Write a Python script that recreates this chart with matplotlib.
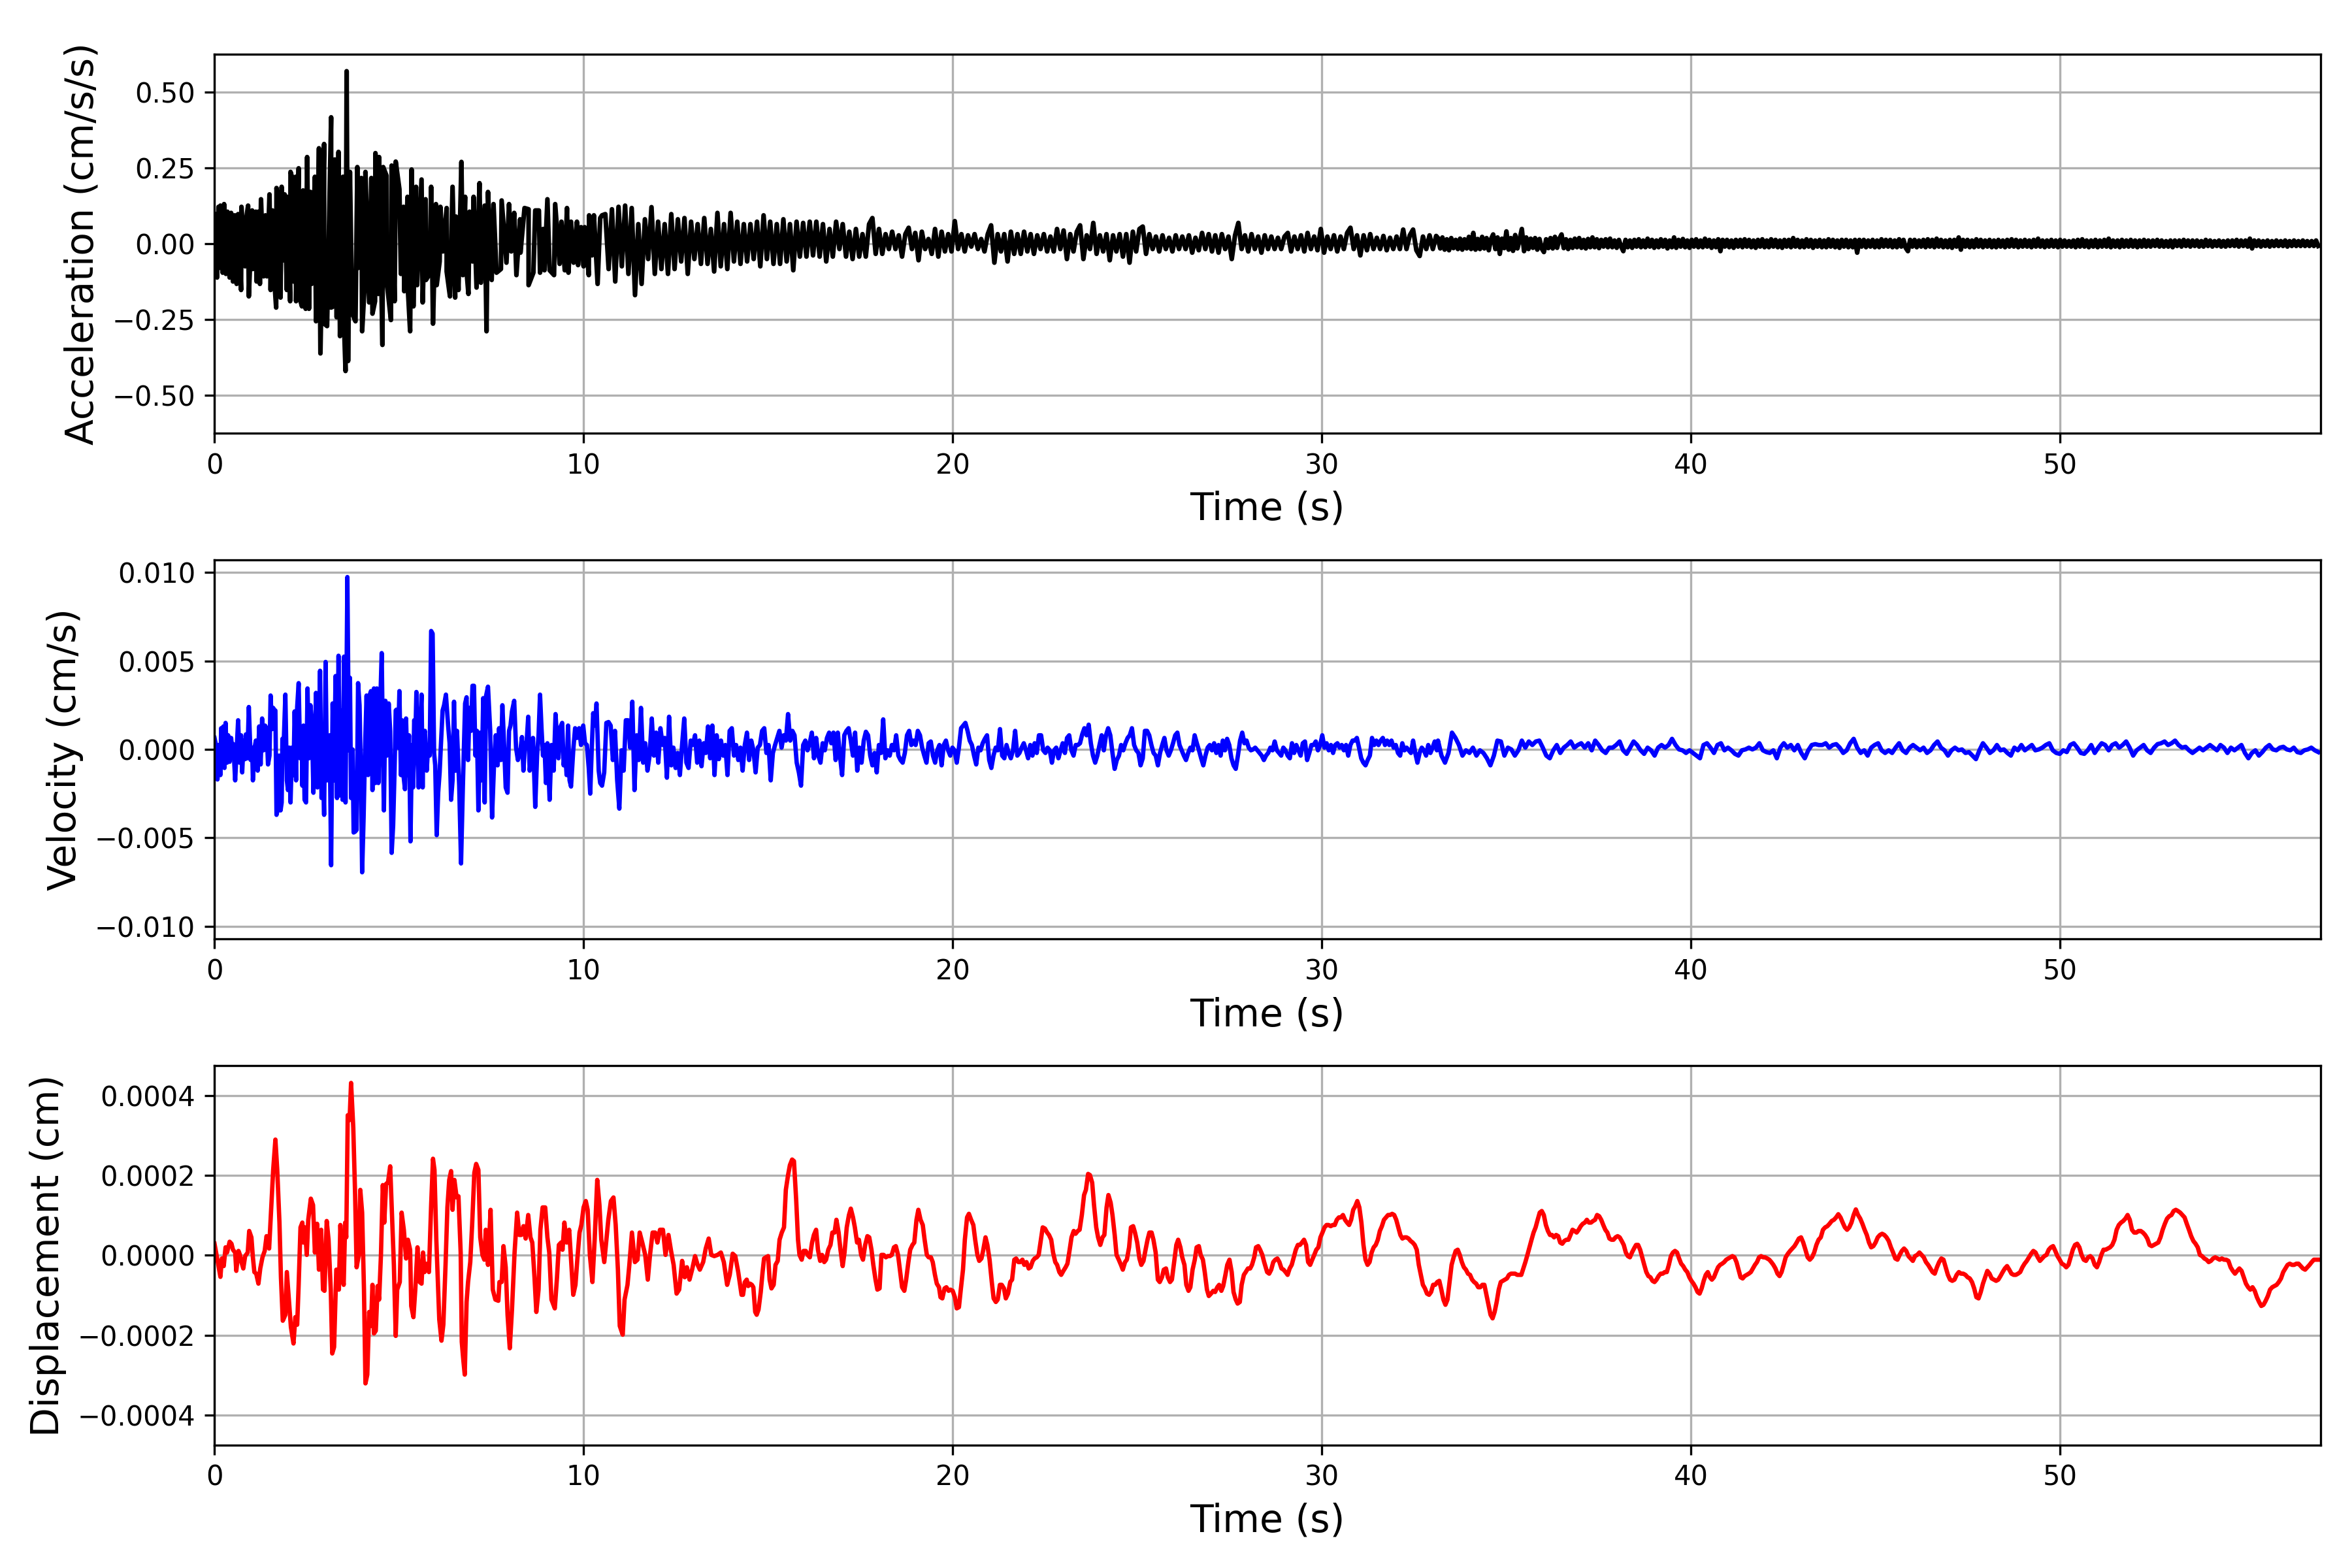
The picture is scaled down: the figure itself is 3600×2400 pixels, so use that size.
import numpy as np
import matplotlib
matplotlib.use("Agg")
import matplotlib.pyplot as plt
from matplotlib.ticker import MultipleLocator

# ---------------- Acceleration (units of 0.001 cm/s/s) ----------------
# 0 - 10.5 s : upper and lower excursions
ACC1_UP_T = [0.04,0.11,0.16,0.26,0.35,0.45,0.55,0.64,0.73,0.84,0.91,1.02,1.12,1.19,1.26,1.38,1.49,1.57,1.68,1.75,
             1.82,1.90,1.97,2.06,2.14,2.20,2.28,2.40,2.51,2.60,2.72,2.83,2.97,3.16,3.26,3.36,3.48,3.58,3.67,3.87,
             3.98,4.09,4.25,4.36,4.46,4.57,4.66,4.80,4.91,5.01,5.12,5.23,5.34,5.46,5.61,5.72,5.87,6.00,6.12,6.29,
             6.45,6.54,6.69,6.79,6.91,7.02,7.18,7.32,7.41,7.56,7.78,7.98,8.12,8.28,8.40,8.51,8.69,8.79,8.90,9.02,
             9.23,9.40,9.55,9.66,9.82,9.93,10.03,10.15,10.28,10.45]
ACC1_UP_V = [97,121,125,130,105,101,93,97,121,64,125,109,105,105,146,93,162,109,183,125,
             187,162,154,236,203,220,248,175,285,170,220,314,328,416,277,302,220,568,236,252,
             216,236,216,298,285,252,224,257,270,179,121,154,244,187,211,146,187,130,121,117,
             187,89,269,154,105,154,199,125,170,130,142,130,101,80,117,113,109,109,48,146,
             130,72,117,72,72,54,54,93,93,84]
ACC1_DN_T = [0.07,0.14,0.22,0.31,0.41,0.50,0.60,0.72,0.83,0.93,1.04,1.14,1.23,1.33,1.42,1.52,1.61,1.67,1.79,1.88,
             1.96,2.05,2.14,2.21,2.29,2.37,2.47,2.56,2.63,2.75,2.87,2.97,3.05,3.16,3.22,3.31,3.40,3.50,3.55,3.62,
             3.73,3.82,3.90,4.00,4.08,4.19,4.28,4.35,4.44,4.55,4.67,4.78,4.88,5.05,5.14,5.23,5.30,5.39,5.49,5.64,
             5.73,5.83,5.92,6.02,6.10,6.19,6.29,6.38,6.52,6.61,6.73,6.79,6.88,6.99,7.10,7.22,7.37,7.51,7.64,7.76,
             7.91,8.04,8.18,8.29,8.51,8.64,8.82,8.94,9.08,9.20,9.35,9.49,9.59,9.73,9.85,10.00,10.14,10.23,10.38]
ACC1_DN_V = [-112,-80,-96,-100,-112,-125,-133,-153,-75,-174,-84,-125,-133,-108,-108,-153,-100,-211,-178,-55,
             -153,-190,-125,-190,-174,-207,-215,-215,-133,-256,-362,-264,-272,-211,-207,-243,-305,-231,-420,-387,
             -231,-256,-80,-289,-108,-194,-231,-190,-166,-334,-129,-252,-190,-100,-157,-129,-289,-207,-137,-194,
             -120,-100,-264,-137,-59,-26,-92,-174,-178,-153,-104,-34,-166,-59,-145,-129,-289,-120,-96,-84,
             -63,-26,-104,-30,-137,-96,-96,-88,-88,-104,-67,-88,-96,-63,-71,-75,-104,-39,-133]
# 10.5 - 33.1 s, successive excursions at an even pace
ACC2_SPAN = (10.50, 33.10)
ACC2_V = [93,97,-84,113,-125,121,-75,125,-100,117,-170,64,-133,80,-51,120,-100,72,-84,64,-100,97,-84,80,-59,84,-100,72,
          -51,64,-67,84,-67,48,-92,101,-75,64,-84,101,-59,72,-67,64,-59,64,-51,72,-75,93,-51,72,-67,64,-67,80,-59,64,
          -88,72,-43,68,-43,72,-39,72,-43,64,-59,48,-43,72,-18,64,-43,39,-51,48,-43,31,-43,64,84,-34,48,-34,31,-18,
          39,-18,27,-43,31,52,-18,35,-55,39,-18,15,-34,48,-43,39,-26,31,-26,74,-18,31,-26,27,-10,31,-18,15,-26,31,
          60,-63,31,-26,31,-59,39,-34,31,-34,39,-26,31,-34,27,-18,31,-26,23,-26,48,-18,43,-51,31,-26,39,60,-51,27,
          -18,68,-34,27,-26,31,-55,27,-26,31,-43,31,-63,39,-26,48,56,-34,31,-18,23,-26,27,-18,19,-26,27,-18,23,-18,
          27,-30,19,-22,35,-18,31,-26,27,-30,31,-18,23,-51,27,68,-18,27,-26,31,-18,23,-30,27,-18,23,-18,19,-18,23,
          35,-26,23,-18,27,-26,35,-18,23,-22,48,-30,23,-18,27,-26,23,-18,35,52,-18,27,-39,27,-22,31,-18,19,-18,25,
          -22,19,-18,23,-18,46,-18,27,46,-22,-41,23,-18,27,-18,25]
# 33.1 - 57.0 s (dense low-level band)
ACC3_SPAN = (33.15, 57.00)
ACC3_V = [18,-16,20,-20,14,-22,18,-15,12,-18,16,-20,14,-16,22,-18,35,-20,15,-18,
          22,-16,18,-22,14,30,-18,20,-34,16,-15,40,-20,18,-24,28,-16,14,48,-25,
          20,-18,16,-14,18,-20,15,-16,-28,14,-15,18,-16,22,-14,16,30,-15,14,-18,
          12,-14,16,-12,18,-14,12,-16,15,-12,20,-12,14,-15,12,-10,14,-12,16,-12,
          10,-14,12,-10,-25,12,-12,10,-14,12,-10,14,-12,10,-12,16,-10,12,-14,10,
          -12,14,-10,12,-16,10,-12,20,-14,12,-10,15,-12,10,-14,12,-10,14,-12,10,
          -12,16,-10,12,-14,10,-12,14,-25,12,-10,12,-12,10,-14,12,-10,12,-12,14,
          -10,12,-12,10,-14,12,-10,14,-12,10,-12,14,-10,12,-12,10,-14,12,-10,12,
          -12,18,-10,12,-12,10,-12,14,-10,12,-14,10,-10,12,-12,10,-12,14,-10,12,
          -12,10,-14,12,-10,12,-12,10,-12,12,-30,12,-10,12,-12,10,-10,12,-12,10,
          -12,14,-10,12,-10,12,-12,10,-12,14,-10,12,-14,-25,12,-10,12,-12,10,-10,
          12,-12,14,-10,12,-12,16,-10,12,-12,10,-12,12,-14,12,-10,20,-20,12,-10,
          12,-12,10,-12,14,-10,12,-12,10,-10,12,-12,10,-12,12,-10,10,-12,12,-10,
          14,-10,12,-12,10,-10,12,-10,10,-12,12,-10,16,-10,10,-12,10,-10,12,-10,
          10,-12,12,-10,10,-10,8,-10,10,-12,12,-10,14,-10,10,-12,10,-10,12,-12,
          10,-10,12,-10,16,-12,10,-10,10,-12,12,-10,10,-10,12,-10,10,-12,10,-10,
          12,-10,10,-10,10,-8,12,-10,10,-10,8,-10,10,-12,10,-8,10,-10,12,-8,
          10,-10,10,-8,10,-10,8,-10,12,-8,10,-10,8,-8,10,-10,8,-10,10,-8,
          10,-8,12,-10,10,-8,10,-10,16,-16,10,-8,10,-10,8,-8,10,-10,8,-8,
          10,-8,8,-8,10,-10,8,-8,10,-8,8,-8,10,-8,8,-8,8,-8,10,-8]

# ---------------- Velocity (units of 5e-5 cm/s) ----------------
VEL1_T = [0.00,0.04,0.08,0.12,0.16,0.18,0.22,0.24,0.27,0.30,0.34,0.37,0.41,0.45,0.49,0.51,0.56,0.60,0.64,0.68,
          0.72,0.75,0.79,0.83,0.85,0.89,0.93,0.98,1.02,1.04,1.08,1.12,1.17,1.21,1.25,1.29,1.33,1.37,1.41,1.45,
          1.49,1.52,1.56,1.59,1.61,1.65,1.68,1.72,1.75,1.79,1.82,1.84,1.88,1.92,1.96,1.99,2.03,2.06,2.10,2.14,
          2.17,2.21,2.24,2.28,2.32,2.36,2.38,2.41,2.44,2.48,2.52,2.56,2.60,2.64,2.68,2.72,2.75,2.79,2.82,2.86,
          2.90,2.93,2.97,3.01,3.05,3.08,3.12,3.16,3.20,3.24,3.28,3.32,3.36,3.40,3.43,3.47,3.51,3.55,3.60,3.64,
          3.67,3.70,3.74,3.77,3.81,3.85,3.89,3.93,3.97,4.00,4.04,4.08,4.12,4.16,4.20,4.24,4.28,4.32,4.36,4.40,
          4.44,4.49,4.53,4.57,4.59,4.63,4.67,4.72,4.76,4.80,4.84,4.88,4.91,4.93,4.97,5.01,5.05,5.08,5.12,5.16,
          5.19,5.23,5.27,5.31,5.35,5.38,5.41,5.45,5.47,5.50,5.53,5.57,5.61,5.64,5.66,5.70,5.75,5.79,5.83,5.87,
          5.91,5.95,5.98,6.02,6.06,6.10,6.14,6.18,6.22,6.27,6.33,6.37,6.41,6.45,6.49,6.53,6.57,6.63,6.68,6.73,
          6.79,6.83,6.87,6.91,6.95,6.99,7.03,7.07,7.11,7.15,7.20,7.24,7.28,7.32,7.36,7.41,7.47,7.52,7.57,7.62,
          7.67,7.71,7.76,7.80,7.85,7.89,7.94,7.98,8.02,8.06,8.12,8.17,8.22,8.28,8.33,8.37,8.41,8.46,8.50,8.54,
          8.58,8.63,8.69,8.74,8.78,8.82,8.86,8.90,8.94,8.98,9.02,9.08,9.13,9.19,9.24,9.28,9.32,9.36,9.42,9.46,
          9.50,9.54,9.58,9.62,9.66,9.72,9.77,9.82,9.88,9.93,9.99,10.04,10.09,10.14,10.18,10.22,10.26,10.31,10.35,10.41,
          10.45]
VEL1_V = [13,5,-34,5,-29,24,-19,26,-21,30,-15,16,-14,13,-4,6,-35,-1,33,-15,
          16,-26,10,-11,17,-10,48,-12,2,-35,0,10,-24,26,-17,35,-1,27,24,-17,
          -7,61,23,47,45,44,-74,-67,-7,-69,-60,12,13,62,-35,-46,2,-60,2,-29,
          43,-35,48,75,-10,21,-41,27,-57,-60,69,-10,50,27,-49,10,64,-43,-7,89,
          -55,-7,-74,99,-35,-29,16,-131,52,-35,83,-55,106,-52,44,-57,105,-60,195,-1,
          81,-55,0,-94,-93,-91,75,50,-35,-139,-77,2,61,-29,61,66,-46,69,-38,69,
          -38,50,109,-21,-69,55,-7,52,21,-117,-86,-21,44,45,2,66,-29,33,-29,-45,
          35,-29,16,-104,5,-43,33,27,65,-7,-43,21,62,-43,13,21,-24,5,-7,134,
          131,-4,-18,-97,-49,-26,10,44,50,62,27,7,-57,-35,54,-24,21,-41,-129,-41,
          52,59,-12,47,21,72,72,-7,21,-69,19,-35,58,-60,61,71,21,-77,-21,16,
          -18,24,-12,50,2,-43,-49,21,27,43,55,2,-12,-4,14,-24,2,10,37,-24,
          -7,13,-65,-7,16,62,24,-7,5,-38,7,-57,5,-24,40,13,-10,24,30,-18,
          -1,-29,27,-35,-42,-1,24,13,24,5,27,7,5,-21,-50,-1,41,27,52,-24,
          -38]
VEL2_SPAN = (10.50, 33.12)
VEL2_V = [-41,-26,30,31,27,-12,21,-35,-67,-1,-24,33,33,2,54,-46,16,-12,47,-15,7,-24,-7,35,-7,19,-15,24,5,13,-32,37,
          -18,2,-21,-4,-29,5,35,-15,-21,10,5,16,-15,10,-19,7,-4,26,-10,27,-29,16,-11,10,-7,5,-29,21,24,-7,5,-12,
          2,-24,5,19,-12,10,-1,-26,2,5,21,24,-4,5,-35,-4,5,13,21,2,16,10,40,10,21,16,-15,-26,-41,5,10,-1,7,19,
          -10,13,-7,-15,7,-1,13,19,7,19,-12,19,-7,-29,16,21,24,10,-7,19,-24,2,-15,10,20,16,-7,-18,-4,-26,5,-4,
          34,-10,-1,-7,5,-1,16,-7,-12,-15,-4,16,21,5,10,5,21,16,2,-7,-15,7,9,-7,-15,-1,5,-18,5,10,-1,-7,2,-1,
          -15,2,24,27,30,21,10,5,-7,-17,2,-1,7,12,16,-12,-21,-7,2,-1,23,-7,-10,5,-4,-10,-1,21,-7,-4,2,7,-1,-10,
          5,-7,7,-4,16,16,-1,-4,2,-1,-15,-1,2,-10,-1,7,-4,13,16,-1,-7,5,5,7,17,24,16,28,7,-7,-15,-7,5,16,-1,16,
          24,16,-4,-22,-12,-7,5,-1,7,13,16,24,5,-1,-4,-18,-10,21,21,16,5,-4,-7,-18,-4,5,13,-1,-7,-1,7,16,19,5,
          -1,-7,-12,-4,2,-1,16,7,-1,-10,-18,-7,2,5,-1,7,-4,5,-7,10,-1,12,5,-10,-18,-22,-7,10,19,7,10,2,-1,0,2,
          -1,-4,-7,-12,-7,-4,2,-1,9,-1,-4,-7,2,-1,-7,-10,7,-4,5,-1,-7,7,9,-12,-4,5,5,9,-1,5,16,2,7,-1,5,-4,5,
          7,2,5,-1,5,-7,5,10,10,13,2,-10,-15,-18,-12,-7,13,5,10,5,10,13,5,10,5,10,2,5,-4,-7,7,-1,2,-1,-4,10,-4,
          -15,-4,2,-1,-7,5,-4,2,9,-1]
VEL3_SPAN = (33.15, 57.00)
VEL3_V = [10,-7,-15,-4,19,13,5,-7,-1,-4,2,-7,-1,-4,-10,-18,-7,10,9,-7,2,0,-7,-1,10,2,9,5,9,10,2,-7,-10,-1,5,-4,
          2,5,9,2,5,7,2,7,-1,10,5,-1,-4,2,2,5,9,-1,-5,2,9,5,-1,-5,2,-1,-7,2,5,2,5,12,5,0,-1,-4,-1,-4,-7,-10,
          5,7,2,-4,5,7,-1,2,-1,-5,-7,-1,0,2,0,2,7,-1,-3,-4,-1,-10,2,7,2,5,-1,5,-4,-10,-1,5,6,5,5,7,2,5,6,2,
          -4,-1,7,12,2,-4,-1,-7,2,5,7,-1,-4,-1,-4,2,7,-1,-4,2,5,2,-1,2,-4,-1,5,9,2,-1,-7,-1,2,-1,0,-4,-3,-7,
          -11,-1,7,2,-4,-1,5,-1,0,-4,-7,2,-1,5,-1,2,5,-1,0,2,5,7,-1,-4,-5,-1,-3,5,7,2,-4,-5,-1,5,-4,2,7,5,
          -1,5,7,2,5,9,2,-7,-1,2,5,-1,-4,2,6,7,9,5,7,10,5,2,3,-1,-4,-1,2,-1,2,5,2,-1,5,2,-4,2,-1,2,5,-4,
          -10,-4,-1,-7,-3,2,5,0,-1,2,3,0,-1,2,-3,-4,-1,0,2,-1,-3]

# ---------------- Displacement (units of 1e-6 cm) ----------------
DISP1_T = [0.00,0.09,0.16,0.20,0.25,0.30,0.34,0.41,0.46,0.50,0.56,0.59,0.65,0.69,0.73,0.78,0.83,0.90,0.94,1.00,
           1.04,1.08,1.13,1.19,1.24,1.30,1.36,1.41,1.48,1.52,1.59,1.65,1.70,1.76,1.80,1.85,1.92,1.96,2.02,2.07,
           2.14,2.19,2.24,2.28,2.33,2.38,2.41,2.45,2.50,2.54,2.61,2.67,2.72,2.78,2.83,2.89,2.94,2.98,3.04,3.09,
           3.15,3.19,3.24,3.30,3.33,3.37,3.41,3.46,3.50,3.54,3.57,3.61,3.66,3.70,3.76,3.81,3.85,3.91,3.95,4.00,
           4.05,4.09,4.14,4.19,4.24,4.28,4.32,4.37,4.42,4.46,4.51,4.56,4.60,4.65,4.70,4.76,4.81,4.86,4.91,4.95,
           5.02,5.07,5.13,5.19,5.24,5.30,5.33,5.39,5.44,5.50,5.56,5.61,5.65,5.69,5.76,5.81,5.87,5.92,5.96,6.01,
           6.06,6.09,6.15,6.20,6.26,6.31,6.36,6.41,6.45,6.50,6.56,6.61,6.67,6.70,6.74,6.78,6.83,6.87,6.93,6.98,
           7.04,7.09,7.15,7.20,7.26,7.31,7.35,7.41,7.48,7.54,7.61,7.69,7.72,7.78,7.83,7.89,7.94,8.00,8.06,8.13,
           8.20,8.26,8.31,8.37,8.43,8.50,8.56,8.61,8.67,8.72,8.78,8.83,8.89,8.96,9.02,9.07,9.13,9.22,9.28,9.33,
           9.39,9.43,9.48,9.54,9.61,9.67,9.72,9.78,9.83,9.89,9.94,10.00,10.06,10.11,10.17,10.24,10.30,10.37,10.43,10.48,
           10.56,10.61,10.67,10.74,10.81,10.87,10.93,10.98,11.06,11.11,11.19,11.24,11.31,11.39,11.46,11.52,11.59,11.67,11.74,11.80,
           11.87,11.94,12.00,12.07,12.15,12.22,12.30,12.37,12.44,12.52,12.59,12.67,12.74,12.80,12.87,12.94,13.02,13.09,13.15,13.24,
           13.31,13.39,13.46,13.54,13.63,13.72,13.80,13.89,13.96,14.04,14.11,14.19,14.28]
DISP1_V = [29,-17,-54,-8,-27,20,7,34,29,14,7,-39,11,1,-17,-33,-2,7,61,45,
           -5,-42,-46,-71,-33,-5,11,48,17,89,214,290,214,82,-55,-164,-149,-42,-117,-180,
           -221,-155,-174,-74,70,82,32,70,1,89,142,126,7,79,-36,64,-86,-89,86,39,
           -86,-246,-230,-36,-36,-86,76,-42,-74,82,45,351,339,432,320,151,-30,1,164,107,
           -86,-321,-299,-142,-177,-74,-196,-189,-77,-111,1,176,82,179,182,223,101,-24,-202,-86,
           -67,107,64,-8,39,14,-127,-155,-86,20,-67,-71,7,-42,-21,-42,126,242,214,39,
           -86,-161,-214,-174,-24,120,189,211,114,189,145,148,7,-217,-261,-299,-117,-67,-17,76,
           207,229,214,45,1,-11,64,-24,114,-86,-111,-114,-67,-67,23,-30,-149,-233,-136,7,
           107,51,51,73,42,101,45,32,-55,-142,-86,64,120,120,45,7,-111,-133,-55,26,
           32,14,82,32,64,-24,-99,-74,-11,57,76,120,136,114,1,-67,39,189,126,39,
           -17,32,89,136,145,76,-36,-177,-199,-111,-74,-24,57,-17,-11,57,32,1,-61,1,
           57,57,32,64,64,1,51,11,-24,-96,-86,-14,-55,-30,-61,-36,-2,-24,-36,-17,
           17,42,1,-2,1,7,-17,-74,-49,4,-2,-42,-99]
DISP2_T = [14.32,14.37,14.42,14.46,14.51,14.56,14.60,14.65,14.69,14.74,14.80,14.85,14.89,14.94,15.00,15.04,15.09,15.15,15.20,15.26,
           15.31,15.37,15.43,15.48,15.54,15.59,15.65,15.70,15.76,15.81,15.85,15.91,15.96,16.02,16.07,16.13,16.19,16.24,16.30,16.35,
           16.41,16.46,16.52,16.57,16.63,16.69,16.74,16.80,16.85,16.91,16.96,17.02,17.07,17.13,17.19,17.24,17.30,17.35,17.41,17.46,
           17.52,17.57,17.63,17.69,17.74,17.80,17.85,17.91,17.96,18.02,18.07,18.13,18.19,18.24,18.30,18.35,18.41,18.46,18.52,18.57,
           18.63,18.69,18.74,18.80,18.85,18.91,18.96,19.02,19.07,19.13,19.19,19.24,19.30,19.35,19.41,19.46,19.52,19.57,19.63,19.67,
           19.72,19.78,19.83,19.89,19.94,20.00,20.06,20.11,20.17,20.22,20.28,20.33,20.39,20.44,20.50,20.56,20.61,20.67,20.72,20.78,
           20.83,20.89,20.94,21.00,21.06,21.11,21.17,21.22,21.28,21.33,21.39,21.44,21.50,21.56,21.61,21.67,21.72,21.78,21.83,21.89,
           21.94,22.00,22.06,22.11,22.17,22.22,22.28,22.33,22.39,22.44,22.50,22.56,22.61,22.67,22.72,22.78,22.83,22.89,22.94,23.00,
           23.06,23.11,23.17,23.22,23.28,23.33,23.39,23.44,23.50,23.56,23.61,23.67,23.72,23.78,23.83,23.89,23.94,24.00,24.06,24.11,
           24.17,24.22,24.28,24.33,24.39,24.44,24.50,24.56,24.61,24.67,24.72,24.78,24.83,24.89,24.94,25.00,25.06,25.11,25.17,25.22,
           25.28,25.33,25.39,25.44,25.50,25.56,25.61,25.67,25.72,25.78,25.83,25.89,25.94,26.00,26.06,26.11,26.17,26.22,26.28,26.33,
           26.39,26.44,26.50,26.56,26.61,26.67,26.72,26.78,26.83,26.89,26.94,27.00,27.06,27.11,27.17,27.22,27.28,27.33,27.39,27.44,
           27.50,27.56,27.61,27.67,27.72,27.78,27.83,27.89,27.94,28.00,28.06,28.11,28.17,28.22,28.28,28.33,28.39,28.44]
DISP2_V = [-99,-67,-61,-77,-71,-74,-80,-142,-149,-136,-92,-42,-8,-5,-2,-61,-83,-74,-24,-14,
           39,57,70,164,201,226,240,236,139,39,1,-11,11,11,1,-5,32,51,64,14,
           -14,1,-17,-11,14,26,57,57,89,57,14,-27,7,70,101,117,95,70,32,39,
           1,-11,26,48,45,14,-24,-61,-86,-83,1,1,-5,-2,-2,1,20,23,1,-36,
           -80,-89,-61,-17,14,26,32,89,114,89,76,39,1,-5,-5,-17,-49,-71,-80,-105,
           -108,-83,-80,-89,-86,-89,-105,-133,-130,-86,-36,39,95,104,89,76,39,1,-14,-8,
           14,45,26,-11,-67,-108,-117,-111,-74,-74,-83,-108,-96,-67,-61,-11,-8,-17,-17,-11,
           -24,-17,-33,-30,-14,-8,-5,1,39,70,67,57,51,39,7,-17,-24,-42,-49,-39,
           -30,-21,14,45,61,54,61,64,101,151,164,204,201,182,126,70,45,26,45,51,
           120,151,132,101,51,1,-11,-24,-36,-17,-11,20,70,73,57,32,-8,-24,-14,11,
           39,57,57,39,7,-61,-67,-55,-36,-33,-55,-67,-61,-17,26,39,20,-5,-24,-74,
           -89,-80,-36,-11,20,23,1,-11,-42,-86,-102,-96,-89,-92,-80,-74,-89,-77,-49,-24,
           -11,-42,-92,-111,-121,-117,-74,-49,-42,-33,-33,-24,-5,20,23,14,1,-17]
DISP3_SPAN = (28.52, 42.57)
DISP3_V = [-42,-46,-36,-17,-11,-8,-17,-33,-36,-42,-49,-33,-24,-5,14,26,26,32,39,26,-17,-24,-11,1,14,20,45,57,70,76,
           76,73,76,76,89,95,95,101,89,82,76,89,114,123,136,120,82,26,-11,-24,-17,7,20,26,39,61,73,89,95,101,
           101,104,101,89,70,51,42,45,45,42,36,32,26,14,-24,-49,-74,-83,-96,-99,-92,-74,-74,-67,-64,-86,-111,-124,-111,-67,
           -24,-5,11,14,1,-17,-30,-36,-46,-49,-61,-67,-71,-80,-80,-74,-74,-99,-124,-149,-158,-142,-117,-86,-67,-64,-61,-58,-49,-46,
           -46,-46,-49,-49,-49,-33,-17,1,20,39,57,70,89,107,111,101,76,61,51,51,45,51,48,32,29,36,39,39,51,64,
           61,57,64,73,79,82,89,82,82,86,89,101,98,89,76,64,57,42,39,39,45,48,45,36,26,7,-2,-5,7,17,
           26,26,14,-5,-24,-42,-52,-55,-64,-67,-61,-52,-46,-46,-42,-42,-24,-2,7,11,7,-8,-21,-27,-36,-42,-55,-64,-71,-80,
           -92,-96,-83,-64,-49,-42,-55,-61,-55,-42,-30,-24,-21,-17,-11,-8,-5,-2,-5,-17,-36,-55,-58,-52,-49,-46,-42,-33,-24,-17,
           -5,-2,-5,-5,-8,-11,-17,-24,-33,-46,-52,-42,-24,-5]
DISP4_SPAN = (42.63, 57.00)
DISP4_V = [4,11,17,23,32,42,45,32,14,-5,-11,-5,7,26,39,45,64,70,73,79,86,89,95,103,95,82,70,64,70,82,
           101,115,101,92,79,64,51,32,20,23,32,45,51,54,51,45,36,20,7,-8,-11,1,11,17,11,-2,-8,-14,-2,1,
           7,1,-5,-17,-24,-33,-42,-46,-30,-17,-8,-11,-30,-49,-61,-64,-61,-49,-42,-46,-46,-49,-55,-58,-67,-83,-105,-108,-92,-71,
           -55,-39,-46,-58,-61,-64,-61,-52,-42,-33,-27,-36,-46,-49,-49,-46,-42,-30,-21,-14,-5,4,11,7,-5,-14,-8,-2,1,14,
           20,23,11,-2,-11,-21,-24,-30,-24,-5,14,26,29,20,1,-11,-14,-5,-2,-8,-24,-30,-17,1,14,14,17,20,26,39,
           64,76,82,86,92,101,89,64,57,57,61,61,57,51,42,26,23,26,29,32,45,64,79,92,98,101,111,114,111,107,
           101,95,79,64,48,36,29,20,1,-2,-8,-11,-17,-14,-8,-5,-8,-11,-8,-11,-11,-14,-30,-39,-46,-39,-33,-39,-55,-71,
           -80,-86,-80,-89,-105,-117,-127,-124,-114,-102,-86,-80,-77,-74,-67,-58,-42,-33,-24,-21,-24,-24,-21,-21,-27,-33,-36,-30,-24,-17,
           -11,-11,-11]

ACC_UNIT = 1e-3
VEL_UNIT = 5e-5
DISP_UNIT = 1e-6
T_END = 57.06


def pair(t, v):
    n = min(len(t), len(v))
    return np.asarray(t[:n], float), np.asarray(v[:n], float)


def spanned(span, v):
    v = np.asarray(v, float)
    return np.linspace(span[0], span[1], len(v)), v


# assemble acceleration
tu, vu = pair(ACC1_UP_T, ACC1_UP_V)
td, vd = pair(ACC1_DN_T, ACC1_DN_V)
t1 = np.concatenate([tu, td])
v1 = np.concatenate([vu, vd])
order = np.argsort(t1, kind="stable")
t1, v1 = t1[order], v1[order]
t2, v2 = spanned(ACC2_SPAN, ACC2_V)
t3, v3 = spanned(ACC3_SPAN, ACC3_V)
acc_t = np.concatenate([[0.0], t1, t2, t3])
acc_v = np.concatenate([[0.0], v1, v2, v3]) * ACC_UNIT

# velocity
a, b = pair(VEL1_T, VEL1_V)
c, d = spanned(VEL2_SPAN, VEL2_V)
e, f = spanned(VEL3_SPAN, VEL3_V)
vel_t = np.concatenate([a, c, e])
vel_v = np.concatenate([b, d, f]) * VEL_UNIT

# displacement
a, b = pair(DISP1_T, DISP1_V)
c, d = pair(DISP2_T, DISP2_V)
e, f = spanned(DISP3_SPAN, DISP3_V)
g, h = spanned(DISP4_SPAN, DISP4_V)
disp_t = np.concatenate([a, c, e, g])
disp_v = np.concatenate([b, d, f, h]) * DISP_UNIT

fig, axes = plt.subplots(3, 1, figsize=(12, 8), dpi=300)
fig.subplots_adjust(left=0.0912, right=0.9866, top=0.9656, bottom=0.0785, hspace=0.334)

series = [
    (acc_t, acc_v, "k", "Acceleration (cm/s/s)", 0.25, 1.7),
    (vel_t, vel_v, "b", "Velocity (cm/s)", 0.005, 1.6),
    (disp_t, disp_v, "r", "Displacement (cm)", 0.0002, 1.6),
]
for ax, (t, v, col, lab, step, lw) in zip(axes, series):
    ax.plot(t, v, color=col, linewidth=lw)
    lim = 1.1 * np.max(np.abs(v))
    ax.set_ylim(-lim, lim)
    ax.set_xlim(0, T_END)
    ax.yaxis.set_major_locator(MultipleLocator(step))
    ax.set_xlabel("Time (s)", fontsize=14)
    ax.set_ylabel(lab, fontsize=14)
    ax.grid(True)

fig.savefig("out.png", dpi=300)
